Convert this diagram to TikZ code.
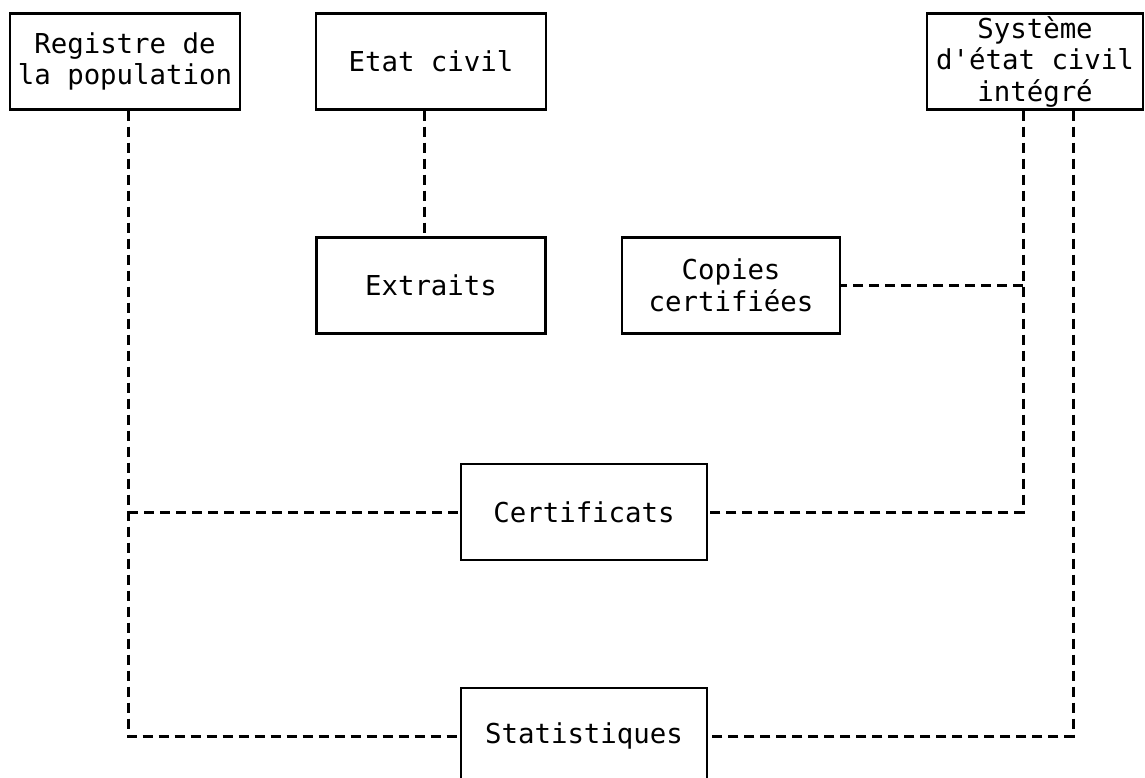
\documentclass[tikz,border=0pt]{standalone}
\usepackage{fontspec}
\newfontfamily\typefont{DejaVu Sans Mono}
\usetikzlibrary{positioning}

\begin{document}
\begin{tikzpicture}[x=1pt, y=-1pt, on grid,
	box/.style={draw, line width=2.2pt, minimum height=96pt, inner sep=0pt, align=center,
		font=\typefont\fontsize{27.4}{31.5}\selectfont},
	link/.style={line width=3pt, dash pattern=on 10pt off 6pt}]
	\useasboundingbox (0,0) rectangle (1145,778);
	\clip (0,0) rectangle (1145,778);
	\node[box, minimum width=230pt] (reg) at (125,61.5) {Registre de\\la population};
	\node[box, minimum width=230pt] (etat) [right=306pt of reg] {Etat civil};
	\node[box, minimum width=216pt] (sys) [right=604pt of etat] {Système\\d'état civil\\intégré};
	\node[box, minimum width=229pt] (extr) [below=224pt of etat] {Extraits};
	\node[box, minimum width=218pt] (cop) [right=300pt of extr] {Copies\\certifiées};
	\node[box, minimum width=246pt] (cert) [below right=226.5pt and 153pt of extr] {Certificats};
	\node[box, minimum width=246pt] (stat) [below=224pt of cert] {Statistiques};

	\coordinate (regfoot) at ([xshift=3pt]reg.south);
	\coordinate (etatfoot) at ([xshift=-7pt]etat.south);
	\coordinate (sysa) at ([xshift=-12pt]sys.south);
	\coordinate (sysb) at ([xshift=38pt]sys.south);

	\draw[link] (regfoot) |- (stat.west);
	\draw[link] (regfoot |- cert.west) -- (cert.west);
	\draw[link] (etatfoot) -- (etatfoot |- extr.north);
	\draw[link] (sysa) |- (cert.east);
	\draw[link] (sysa |- cop.east) -- (cop.east);
	\draw[link] (sysb) |- (stat.east);
\end{tikzpicture}
\end{document}
